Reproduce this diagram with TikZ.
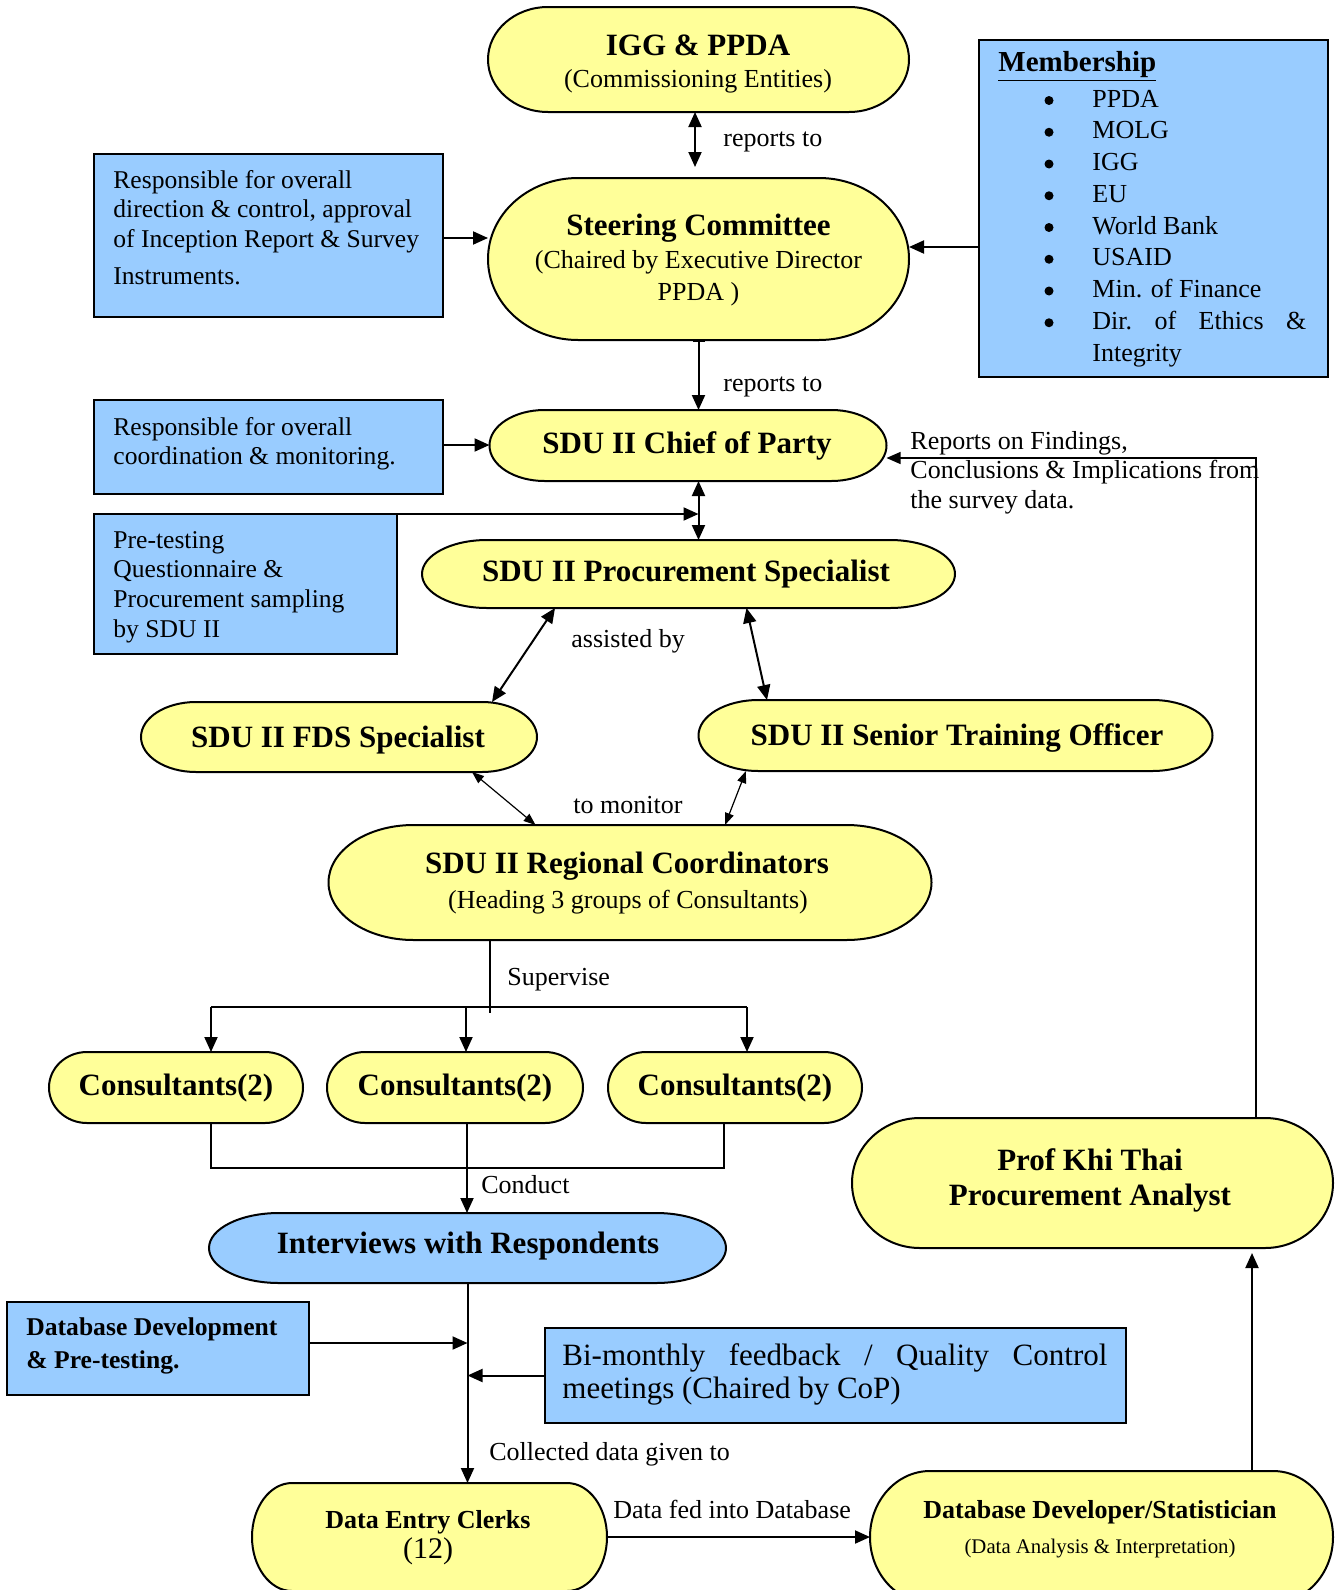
\documentclass[tikz,border=0pt]{standalone}
\usepackage{fontspec}
\setmainfont{Liberation Serif}
\usetikzlibrary{arrows.meta,calc}
\definecolor{pillyellow}{HTML}{FFFF99}
\definecolor{boxblue}{HTML}{99CCFF}
\tikzset{
  ln/.style={line width=1pt},
  arr/.style={ln, -{Triangle[length=7.5pt,width=6.5pt]}},
  darr/.style={ln, {Triangle[length=7.5pt,width=6.5pt]}-{Triangle[length=7.5pt,width=6.5pt]}},
  tarr/.style={line width=0.6pt, {Triangle[length=6pt,width=4.5pt]}-{Triangle[length=6pt,width=4.5pt]}},
  hd/.style={inner sep=0, font=\fontsize{15.5}{17}\selectfont\bfseries},
  bd/.style={inner sep=0, font=\fontsize{13}{15}\selectfont},
  bbox/.style={draw, line width=1pt, fill=boxblue, inner sep=0, outer sep=0},
}
\newcommand\pillnode[7]{%
  \node[inner sep=0, outer sep=0, minimum width=#4*0.5pt, minimum height=#5*0.5pt] (#1) at (#2,#3) {};
  \pgfmathsetmacro\pillrx{#6*0.5}%
  \pgfmathsetmacro\pillry{#5*0.25}%
  \filldraw[fill=#7, line width=1pt] ([xshift=\pillrx pt]#1.north west) -- ([xshift=-\pillrx pt]#1.north east)
    arc[start angle=90, end angle=-90, x radius=\pillrx pt, y radius=\pillry pt]
    -- ([xshift=\pillrx pt]#1.south west)
    arc[start angle=270, end angle=90, x radius=\pillrx pt, y radius=\pillry pt] -- cycle;
}
\begin{document}
\begin{tikzpicture}[x=0.5pt,y=-0.5pt]
\useasboundingbox (0,0) rectangle (1340,1590);
\fill[white] (0,0) rectangle (1340,1590);

% ---- pill shaped nodes
\pillnode{igg}{698.5}{59.5}{421}{105}{60}{pillyellow}
\pillnode{steer}{698.5}{259}{421}{162}{90}{pillyellow}
\pillnode{chief}{688}{445.5}{397}{71}{55}{pillyellow}
\pillnode{proc}{688.5}{574}{533}{68}{65}{pillyellow}
\pillnode{fds}{339}{737}{396}{70}{55}{pillyellow}
\pillnode{sto}{955.5}{735.5}{514}{71}{60}{pillyellow}
\pillnode{rc}{630}{882.5}{603}{115}{85}{pillyellow}
\pillnode{c1}{176}{1087.5}{254}{71}{38}{pillyellow}
\pillnode{c2}{455}{1087.5}{256}{71}{38}{pillyellow}
\pillnode{c3}{735}{1087.5}{254}{71}{38}{pillyellow}
\pillnode{inter}{467.5}{1248}{517}{70}{70}{boxblue}
\pillnode{prof}{1092.5}{1183}{481}{130}{68}{pillyellow}
\pillnode{dec}{429.5}{1537}{355}{108}{40}{pillyellow}
\pillnode{dbd}{1101.5}{1537}{463}{132}{60}{pillyellow}

% ---- rectangular boxes
\node[bbox, minimum width=174.5pt, minimum height=81.5pt] (b1) at (268.5,235.5) {};
\node[bbox, minimum width=174.5pt, minimum height=47pt] (b2) at (268.5,447) {};
\node[bbox, minimum width=151.5pt, minimum height=70pt] (b3) at (245.5,584) {};
\node[bbox, minimum width=174.5pt, minimum height=168.5pt] (mem) at (1153.5,208.5) {};
\node[bbox, minimum width=151pt, minimum height=46.5pt] (dbdev) at (158,1348.5) {};
\node[bbox, minimum width=290.5pt, minimum height=47.5pt] (bim) at (835.5,1375.5) {};

% ---- texts in pills
\node[hd, anchor=base] (iggT) at (698,55) {IGG \& PPDA};
\node[bd, anchor=base] (iggS) at (698,87) {(Commissioning Entities)};
\node[hd, anchor=base] (steerT) at (698.5,235) {Steering Committee};
\node[bd, anchor=base, align=center, font=\fontsize{13}{16}\selectfont] (steerS) at (698.5,300) {(Chaired by Executive Director\\PPDA )};
\node[hd, anchor=base] (chiefT) at (687,453) {SDU II Chief of Party};
\node[hd, anchor=base] (procT) at (686,581) {SDU II Procurement Specialist};
\node[hd, anchor=base] (fdsT) at (338,747) {SDU II FDS Specialist};
\node[hd, anchor=base] (stoT) at (957,745) {SDU II Senior Training Officer};
\node[hd, anchor=base] (rcT) at (627,873) {SDU II Regional Coordinators};
\node[bd, anchor=base] (rcS) at (628,908) {(Heading 3 groups of Consultants)};
\node[hd, anchor=base] (c1T) at (176,1095) {Consultants(2)};
\node[hd, anchor=base] (c2T) at (455,1095) {Consultants(2)};
\node[hd, anchor=base] (c3T) at (735,1095) {Consultants(2)};
\node[hd, anchor=base] (interT) at (468,1253) {Interviews with Respondents};
\node[hd, anchor=base] (profT) at (1090,1170) {Prof Khi Thai};
\node[hd, anchor=base] (profS) at (1090,1205) {Procurement Analyst};
\node[inner sep=0, anchor=base, font=\fontsize{13}{15}\selectfont\bfseries] (decT) at (428,1528) {Data Entry Clerks};
\node[inner sep=0, anchor=base, font=\fontsize{15}{17}\selectfont] (decS) at (428,1558) {(12)};
\node[inner sep=0, anchor=base, font=\fontsize{13}{15}\selectfont\bfseries] (dbdT) at (1100,1518) {Database Developer/Statistician};
\node[inner sep=0, anchor=base, font=\fontsize{10.4}{12}\selectfont] (dbdS) at (1100,1553) {(Data Analysis \& Interpretation)};

% ---- texts in boxes (anchor base = baseline of last line)
\node[bd, anchor=base west, align=left, font=\fontsize{12.8}{14.75}\selectfont] (b1T) at (113,284)
  {Responsible for overall\\direction \& control, approval\\of Inception Report \& Survey\\[3.75pt]Instruments.};
\node[bd, anchor=base west, align=left, font=\fontsize{12.8}{14.5}\selectfont] (b2T) at (113,464)
  {Responsible for overall\\coordination \& monitoring.};
\node[bd, anchor=base west, align=left, font=\fontsize{12.8}{14.8}\selectfont] (b3T) at (113,637)
  {Pre-testing\\Questionnaire \&\\Procurement sampling\\by SDU II};
\node[inner sep=0, anchor=base west, font=\fontsize{14.5}{16}\selectfont\bfseries] (memT) at (998,71) {\underline{Membership}};
\foreach \i in {0,...,7} \fill (1049,{100.5+31.75*\i}) circle[radius=2.25pt];
\node[bd, anchor=base west, align=left, font=\fontsize{13}{15.875}\selectfont] (memL) at (1092,361)
  {PPDA\\MOLG\\IGG\\EU\\World Bank\\USAID\\Min. of Finance\\\hbox to 107pt{Dir.\hfill of\hfill Ethics\hfill \&}\\Integrity};
\node[inner sep=0, anchor=base west, align=left, font=\fontsize{12.8}{16.5}\selectfont\bfseries] (dbdevT) at (26,1368)
  {Database Development\\\& Pre-testing.};
\node[inner sep=0, anchor=base west, align=left, font=\fontsize{15.5}{16.5}\selectfont] (bimT) at (562,1398)
  {\hbox to 272.5pt{Bi-monthly\hfill feedback\hfill /\hfill Quality\hfill Control}\\meetings (Chaired by CoP)};

% ---- connector labels
\node[bd, anchor=base west] (l1) at (723,146) {reports to};
\node[bd, anchor=base west] (l2) at (723,391) {reports to};
\node[bd, anchor=base west, align=left, font=\fontsize{13}{14.75}\selectfont] (l3) at (910,508)
  {Reports on Findings,\\Conclusions \& Implications from\\the survey data.};
\node[bd, anchor=base west] (l4) at (571,647) {assisted by};
\node[bd, anchor=base west] (l5) at (573,813) {to monitor};
\node[bd, anchor=base west] (l6) at (507,985) {Supervise};
\node[bd, anchor=base west] (l7) at (481,1193) {Conduct};
\node[bd, anchor=base west] (l8) at (489,1460) {Collected data given to};
\node[bd, anchor=base west] (l9) at (613,1518) {Data fed into Database};

% ---- connectors
\draw[darr, shorten >=5.5pt] ([xshift=-1.75pt]igg.south) -- ([xshift=-1.75pt]igg.south |- steer.north);
\draw[arr] ([yshift=-1.25pt]b1.east) -- ([yshift=-1.25pt]b1.east -| steer.west);
\draw[arr] ([yshift=-19.25pt]mem.west) -- ([yshift=-19.25pt]mem.west -| steer.east);
\draw[ln, {Bar[width=6pt,line width=1.2pt]}-{Triangle[length=7.5pt,width=6.5pt]}] (steer.south) -- (steer.south |- chief.north);
\draw[arr] ([yshift=1pt]b2.east) -- ([yshift=1pt]b2.east -| chief.west);
\draw[arr] (b3.north east) -- (b3.north east -| steer.south);
\draw[darr] (chief.south -| steer.south) -- (proc.north -| steer.south);
\draw[darr] ([xshift=-66.75pt]proc.south) -- ([xshift=76.5pt]fds.north);
\draw[darr] ([xshift=29pt]proc.south) -- ([xshift=-94.25pt]sto.north);
\draw[tarr] ([xshift=66.5pt]fds.south) -- ([xshift=-47.2pt]rc.north);
\draw[tarr] ([xshift=-104.75pt]sto.south) -- ([xshift=47.5pt]rc.north);

% supervise
\draw[ln] ([xshift=-70pt]rc.south) -- ++(0,73);
\coordinate (k1) at ([xshift=17.5pt]c1.north);
\coordinate (k2) at ([xshift=5.5pt]c2.north);
\coordinate (k3) at ([xshift=6pt]c3.north);
\coordinate (bus) at (0,1007);
\draw[ln] (bus -| k1) -- (bus -| k3);
\foreach \k in {k1,k2,k3} \draw[arr] (bus -| \k) -- (\k);

% conduct
\coordinate (m1) at ([xshift=17.5pt]c1.south);
\coordinate (m2) at ([xshift=6pt]c2.south);
\coordinate (m3) at ([xshift=-5.5pt]c3.south);
\coordinate (cbus) at (0,1168);
\draw[ln] (m1) -- (cbus -| m1) -- (cbus -| m3) -- (m3);
\draw[arr] (m2) -- (m2 |- inter.north);

% data flow
\draw[arr] (inter.south) -- (inter.south |- dec.north);
\draw[arr] ([yshift=2.75pt]dbdev.east) -- ([yshift=2.75pt]dbdev.east -| inter.south);
\draw[arr] (bim.west) -- (bim.west -| inter.south);
\draw[arr] (dec.east) -- (dec.east -| dbd.west);
\draw[arr, shorten >=2.5pt] ([xshift=75.25pt]dbd.north) -- ([xshift=75.25pt]dbd.north |- prof.south);
\coordinate (pn) at ([xshift=81.75pt]prof.north);
\coordinate (ce) at ([yshift=-6.25pt]chief.east);
\draw[line width=0.6pt, -{Triangle[length=7pt,width=6pt]}] (pn) -- (pn |- ce) -- (ce);
\end{tikzpicture}
\end{document}
